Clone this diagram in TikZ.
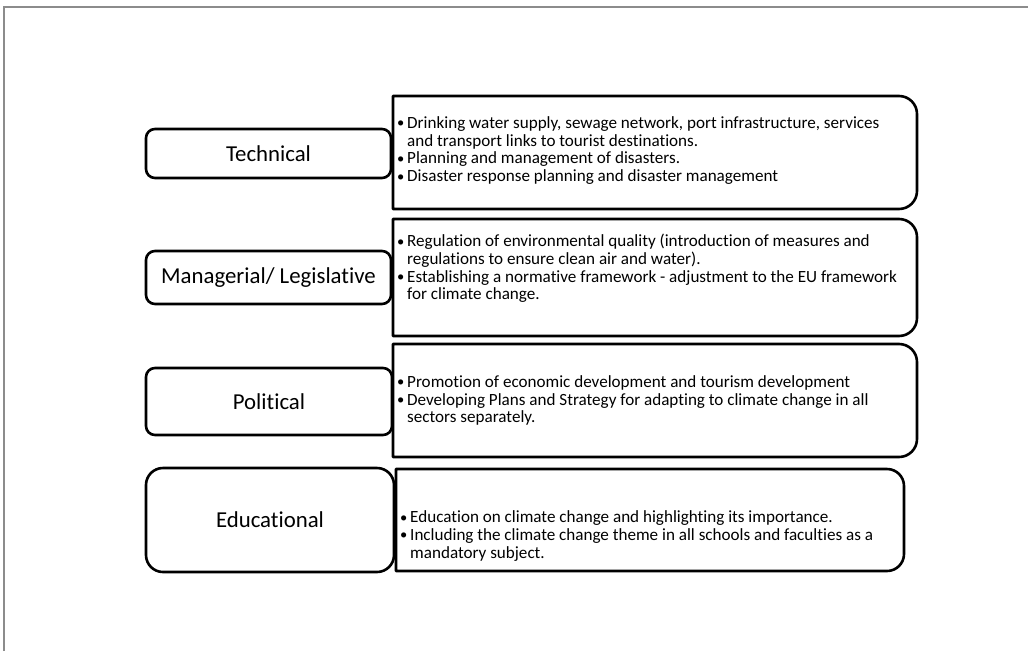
\documentclass[tikz,border=0pt]{standalone}
\usepackage{fontspec}
\setmainfont{Carlito}[Ligatures=NoCommon]
\tikzstyle{catbox} = [rectangle, rounded corners=9pt, draw=black, line width=2.6pt, text centered, font=\fontsize{22.8}{26}\selectfont]
\tikzstyle{listbox} = [rectangle, inner sep=0pt, outer sep=0pt]
\tikzstyle{listtext} = [anchor=west, inner sep=0pt, align=left, font=\fontsize{17.1}{17.8}\selectfont]
\tikzstyle{boxline} = [line width=2.6pt, line join=round]
\tikzstyle{frameline} = [line width=1.4pt, draw=black!45]
\newcommand{\blt}{\makebox[10pt][l]{\raisebox{0.5pt}{\scalebox{0.85}{\textbullet}}}}
\newcommand{\rightbox}[2]{\draw[boxline] (#1.south west) -- (#1.north west) -- ([xshift=-#2]#1.north east) arc[start angle=90, end angle=0, radius=#2] -- ([yshift=#2]#1.south east) arc[start angle=0, end angle=-90, radius=#2] -- cycle;}

\begin{document}
\begin{tikzpicture}[x=1pt, y=1pt]
    \useasboundingbox (0,0) rectangle (1028,-651);
    \draw[frameline] (4,-651) -- (4,-7) -- (1028,-7);

    % categories
    \node (tech) [catbox, minimum width=245pt, minimum height=49pt] at (268.5,-153.5) {Technical};
    \node (manag) [catbox, below of=tech, node distance=124pt, minimum width=245pt, minimum height=53pt] {Managerial/ Legislative};
    \node (polit) [catbox, below of=manag, node distance=124pt, minimum width=246pt, minimum height=67pt, xshift=0.5pt] {Political};
    \node (educ) [catbox, below of=polit, node distance=118.5pt, minimum width=248pt, minimum height=104pt, rounded corners=17pt, xshift=1pt] {Educational};

    % measures
    \node (techR) [listbox, right of=tech, node distance=386.5pt, minimum width=524pt, minimum height=113pt, yshift=1pt] {};
    \node (managR) [listbox, right of=manag, node distance=386.5pt, minimum width=524pt, minimum height=117pt] {};
    \node (politR) [listbox, right of=polit, node distance=386pt, minimum width=524pt, minimum height=113pt, yshift=1pt] {};
    \node (educR) [listbox, right of=educ, node distance=380pt, minimum width=508pt, minimum height=102pt] {};
    \rightbox{techR}{18pt}
    \rightbox{managR}{18pt}
    \rightbox{politR}{18pt}
    \rightbox{educR}{17pt}

    \node (techT) [listtext] at ([xshift=4pt, yshift=2pt]techR.west) {%
        \blt Drinking water supply, sewage network, port infrastructure, services\\
        \hspace*{10pt}and transport links to tourist destinations.\\
        \blt Planning and management of disasters.\\
        \blt Disaster response planning and disaster management};
    \node (managT) [listtext] at ([xshift=4pt, yshift=9pt]managR.west) {%
        \blt Regulation of environmental quality (introduction of measures and\\
        \hspace*{10pt}regulations to ensure clean air and water).\\
        \blt Establishing a normative framework - adjustment to the EU framework\\
        \hspace*{10pt}for climate change.};
    \node (politT) [listtext] at ([xshift=4pt, yshift=0pt]politR.west) {%
        \blt Promotion of economic development and tourism development\\
        \blt Developing Plans and Strategy for adapting to climate change in all\\
        \hspace*{10pt}sectors separately.};
    \node (educT) [listtext] at ([xshift=4pt, yshift=-16pt]educR.west) {%
        \blt Education on climate change and highlighting its importance.\\
        \blt Including the climate change theme in all schools and faculties as a\\
        \hspace*{10pt}mandatory subject.};
\end{tikzpicture}
\end{document}
